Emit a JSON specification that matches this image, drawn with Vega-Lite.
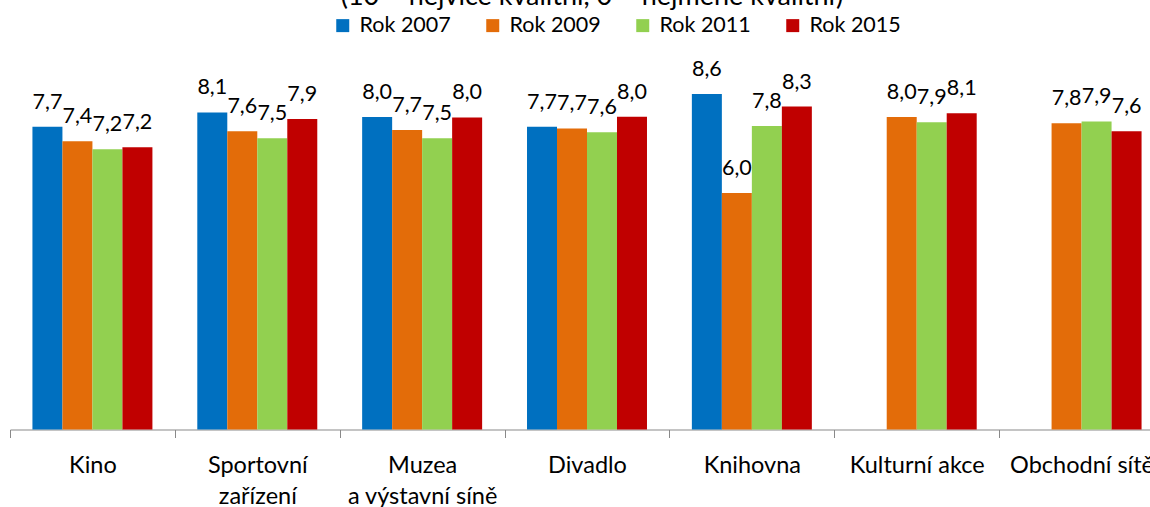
{
  "$schema": "https://vega.github.io/schema/vega-lite/v6.json",
  "autosize": {"type": "none"},
  "width": 1140,
  "height": 391,
  "padding": {"left": 10, "right": 0, "top": 38.5, "bottom": 77.5},
  "background": "white",
  "title": {
    "text": "(10 – nejvíce kvalitní, 0 – nejméně kvalitní)",
    "anchor": "middle",
    "frame": "group",
    "dx": 12,
    "dy": -2,
    "offset": 2,
    "font": "Lato",
    "fontSize": 27,
    "fontWeight": "normal",
    "color": "#000000"
  },
  "config": {
    "view": {"stroke": null},
    "font": "Lato"
  },
  "data": {
    "values": [
      {"misto": "Kino", "rok": "Rok 2007", "hodnota": 7.74, "popis": "7,7"},
      {"misto": "Kino", "rok": "Rok 2009", "hodnota": 7.37, "popis": "7,4"},
      {"misto": "Kino", "rok": "Rok 2011", "hodnota": 7.17, "popis": "7,2"},
      {"misto": "Kino", "rok": "Rok 2015", "hodnota": 7.22, "popis": "7,2"},
      {"misto": "Sportovní zařízení", "rok": "Rok 2007", "hodnota": 8.11, "popis": "8,1"},
      {"misto": "Sportovní zařízení", "rok": "Rok 2009", "hodnota": 7.63, "popis": "7,6"},
      {"misto": "Sportovní zařízení", "rok": "Rok 2011", "hodnota": 7.45, "popis": "7,5"},
      {"misto": "Sportovní zařízení", "rok": "Rok 2015", "hodnota": 7.94, "popis": "7,9"},
      {"misto": "Muzea a výstavní síně", "rok": "Rok 2007", "hodnota": 7.99, "popis": "8,0"},
      {"misto": "Muzea a výstavní síně", "rok": "Rok 2009", "hodnota": 7.66, "popis": "7,7"},
      {"misto": "Muzea a výstavní síně", "rok": "Rok 2011", "hodnota": 7.45, "popis": "7,5"},
      {"misto": "Muzea a výstavní síně", "rok": "Rok 2015", "hodnota": 7.98, "popis": "8,0"},
      {"misto": "Divadlo", "rok": "Rok 2007", "hodnota": 7.74, "popis": "7,7"},
      {"misto": "Divadlo", "rok": "Rok 2009", "hodnota": 7.70, "popis": "7,7"},
      {"misto": "Divadlo", "rok": "Rok 2011", "hodnota": 7.60, "popis": "7,6"},
      {"misto": "Divadlo", "rok": "Rok 2015", "hodnota": 8.00, "popis": "8,0"},
      {"misto": "Knihovna", "rok": "Rok 2007", "hodnota": 8.58, "popis": "8,6"},
      {"misto": "Knihovna", "rok": "Rok 2009", "hodnota": 6.05, "popis": "6,0"},
      {"misto": "Knihovna", "rok": "Rok 2011", "hodnota": 7.76, "popis": "7,8"},
      {"misto": "Knihovna", "rok": "Rok 2015", "hodnota": 8.26, "popis": "8,3"},
      {"misto": "Kulturní akce", "rok": "Rok 2009", "hodnota": 7.99, "popis": "8,0"},
      {"misto": "Kulturní akce", "rok": "Rok 2011", "hodnota": 7.86, "popis": "7,9"},
      {"misto": "Kulturní akce", "rok": "Rok 2015", "hodnota": 8.09, "popis": "8,1"},
      {"misto": "Obchodní sítě", "rok": "Rok 2009", "hodnota": 7.83, "popis": "7,8"},
      {"misto": "Obchodní sítě", "rok": "Rok 2011", "hodnota": 7.88, "popis": "7,9"},
      {"misto": "Obchodní sítě", "rok": "Rok 2015", "hodnota": 7.63, "popis": "7,6"}
    ]
  },
  "encoding": {
    "x": {
      "field": "misto",
      "type": "nominal",
      "sort": null,
      "title": null,
      "scale": {"range": [0, 1154], "paddingInner": 0, "paddingOuter": 0},
      "axis": {
        "labelAngle": 0,
        "tickBand": "extent",
        "domainColor": "#898989",
        "domainWidth": 1,
        "tickColor": "#898989",
        "tickSize": 8,
        "labelFont": "Lato",
        "labelFontSize": 23.5,
        "labelColor": "#000000",
        "labelPadding": 15.5,
        "labelLineHeight": 31,
        "labelLimit": 0,
        "labelExpr": "datum.label == 'Sportovní zařízení' ? ['Sportovní', 'zařízení'] : datum.label == 'Muzea a výstavní síně' ? ['Muzea', 'a výstavní síně'] : datum.label"
      }
    },
    "xOffset": {
      "field": "rok",
      "type": "nominal",
      "scale": {"domain": ["Rok 2007", "Rok 2009", "Rok 2011", "Rok 2015"], "paddingInner": 0, "paddingOuter": 0.748}
    },
    "y": {
      "field": "hodnota",
      "type": "quantitative",
      "scale": {"domain": [0, 10], "nice": false},
      "axis": null
    }
  },
  "layer": [
    {
      "mark": {"type": "bar"},
      "encoding": {
        "color": {
          "field": "rok",
          "type": "nominal",
          "scale": {"domain": ["Rok 2007", "Rok 2009", "Rok 2011", "Rok 2015"], "range": ["#0070C0", "#E36C09", "#92D050", "#C00000"]},
          "legend": {
            "title": null,
            "orient": "none",
            "legendX": 322,
            "legendY": -24,
            "direction": "horizontal",
            "columns": 4,
            "columnPadding": 31,
            "symbolType": "square",
            "symbolSize": 169,
            "symbolStrokeWidth": 0,
            "symbolOpacity": 1,
            "labelFont": "Lato",
            "labelFontSize": 21.5,
            "labelColor": "#000000",
            "labelOffset": 6,
            "padding": 0
          }
        }
      }
    },
    {
      "mark": {"type": "text", "baseline": "alphabetic", "dy": -18, "font": "Lato", "fontSize": 21.5, "color": "#000000"},
      "encoding": {"text": {"field": "popis"}}
    }
  ]
}
